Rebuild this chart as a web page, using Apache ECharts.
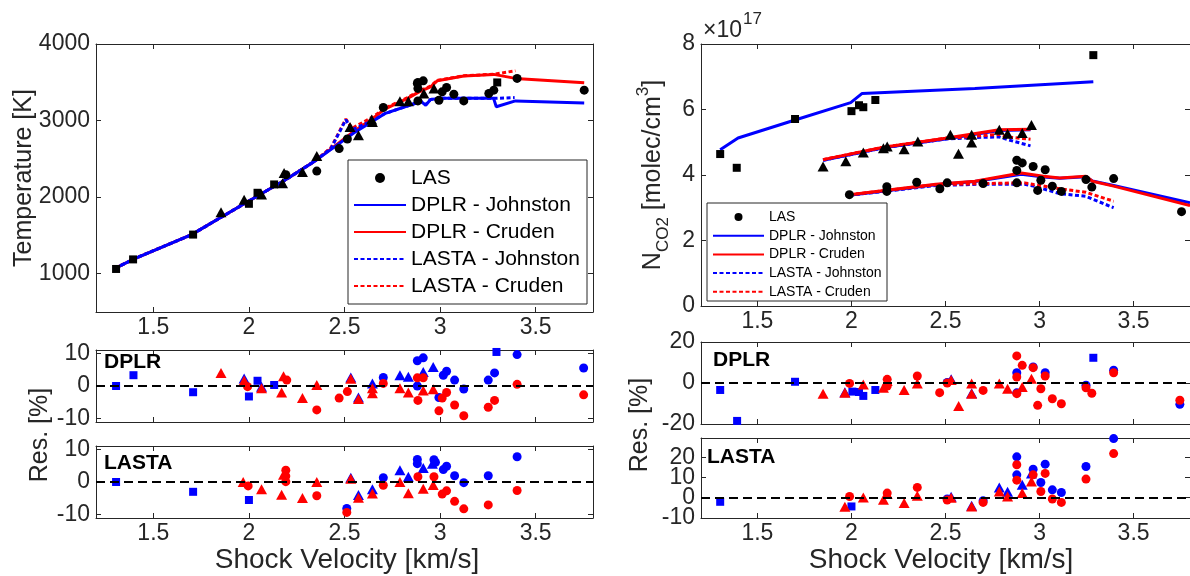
<!DOCTYPE html>
<html><head><meta charset="utf-8">
<script src="https://cdn.jsdelivr.net/npm/echarts@6/dist/echarts.min.js"></script>
<style>html,body{margin:0;padding:0;background:#fff}#c{width:1190px;height:576px}</style>
</head><body><div id="c"></div>
<script>
// ---------- tick labels ----------
const xTicks = [1.5, 2, 2.5, 3, 3.5];
const tempTicks = [1000, 2000, 3000, 4000];
const ncoTicks = [0, 2, 4, 6, 8];
const resLTicks = [-10, 0, 10];
const resRDTicks = [-20, 0, 20];
const resRLTicks = [-10, 0, 10, 20];
const legendNames = ['LAS', 'DPLR - Johnston', 'DPLR - Cruden', 'LASTA - Johnston', 'LASTA - Cruden'];

// ---------- Temperature panel (x: km/s, y: K) ----------
const tSquares = [[1.305,1062],[1.394,1187],[1.708,1511],[2.0,1913],[2.045,2057],[2.132,2166],[3.299,3498]];
const tTriangles = [[1.854,1803],[1.975,1965],[2.066,2035],[2.176,2183],[2.184,2314],[2.28,2327],[2.355,2537],[2.529,2917],[2.573,2808],[2.642,3013],[2.646,2982],[2.79,3253],[2.834,3253],[2.915,3354],[2.968,3420]];
const tCircles = [[2.193,2293],[2.355,2340],[2.472,2634],[2.515,2760],[2.703,3170],[2.881,3485],[2.884,3498],[2.912,3519],[2.884,3420],[2.884,3257],[2.994,3266],[3.011,3375],[3.034,3432],[3.072,3345],[3.124,3257],[3.255,3354],[3.281,3397],[3.403,3551],[3.754,3397]];
const tDPLRJ = [[1.30,1070],[1.40,1195],[1.70,1510],[1.85,1730],[2.00,1950],[2.20,2240],[2.35,2480],[2.45,2660],[2.55,2840],[2.65,2995],[2.71,3090],[2.84,3200],[2.90,3250],[2.925,3200],[2.95,3275],[3.00,3290],[3.28,3290],[3.294,3180],[3.394,3257],[3.754,3231]];
const tDPLRC = [[1.30,1070],[1.40,1195],[1.70,1510],[1.85,1730],[2.00,1950],[2.20,2240],[2.35,2480],[2.45,2670],[2.55,2860],[2.65,3030],[2.71,3150],[2.83,3290],[2.89,3375],[2.95,3441],[2.985,3519],[3.124,3581],[3.281,3603],[3.394,3551],[3.754,3493]];
const tLASTAJ = [[1.30,1070],[1.40,1195],[1.70,1510],[1.85,1730],[2.00,1950],[2.20,2240],[2.35,2480],[2.43,2640],[2.507,3010],[2.54,2880],[2.65,3000],[2.71,3090],[2.84,3200],[2.90,3250],[2.925,3210],[2.95,3275],[3.00,3290],[3.28,3290],[3.39,3300]];
const tLASTAC = [[1.30,1070],[1.40,1195],[1.70,1510],[1.85,1730],[2.00,1950],[2.20,2240],[2.35,2480],[2.43,2650],[2.507,3020],[2.54,2900],[2.65,3050],[2.71,3160],[2.83,3300],[2.89,3385],[2.95,3450],[2.985,3525],[3.124,3585],[3.281,3605],[3.394,3650]];

// ---------- N_CO2 panel (x: km/s, y: 1e17 molec/cm3) ----------
const nSquares = [[1.302,4.64],[1.39,4.22],[1.70,5.71],[2.0,5.95],[2.04,6.13],[2.063,6.07],[2.127,6.29],[3.286,7.66]];
const nTriangles = [[1.849,4.26],[1.97,4.42],[2.063,4.69],[2.17,4.82],[2.19,4.87],[2.28,4.79],[2.353,5.02],[2.526,5.23],[2.569,4.65],[2.639,5.23],[2.639,4.99],[2.786,5.38],[2.83,5.26],[2.908,5.28],[2.957,5.53]];
const nCircles = [[1.989,3.40],[2.188,3.64],[2.188,3.50],[2.347,3.78],[2.47,3.58],[2.509,3.76],[2.70,3.74],[2.879,4.45],[2.908,4.37],[2.879,4.14],[2.879,3.76],[2.966,4.26],[3.03,4.16],[3.007,3.84],[2.99,3.53],[3.068,3.66],[3.116,3.50],[3.247,3.86],[3.278,3.63],[3.394,3.89],[3.755,2.88]];
const nSqDPLRJ = [[1.302,4.77],[1.397,5.13],[1.70,5.68],[1.996,6.21],[2.057,6.49],[2.656,6.64],[3.286,6.85]];
const nTriDPLRC = [[1.849,4.47],[2.17,4.85],[2.50,5.12],[2.786,5.38],[2.952,5.40]];
const nTriDPLRJ = [[1.849,4.45],[2.17,4.83],[2.50,5.10],[2.786,5.36],[2.952,5.38]];
const nTriLASTAC = [[1.849,4.47],[2.17,4.85],[2.50,5.12],[2.69,5.20],[2.786,5.24],[2.83,5.16],[2.952,5.09]];
const nTriLASTAJ = [[1.849,4.45],[2.17,4.83],[2.50,5.10],[2.69,5.15],[2.786,5.16],[2.83,5.08],[2.952,4.89]];
const nCirDPLRC = [[1.989,3.40],[2.448,3.72],[2.656,3.81],[2.879,4.04],[2.903,4.06],[3.021,3.96],[3.108,3.91],[3.247,3.96],[3.281,3.81],[3.394,3.66],[3.80,3.07]];
const nCirDPLRJ = [[1.989,3.38],[2.448,3.70],[2.656,3.80],[2.879,4.00],[2.903,4.02],[3.021,3.94],[3.108,3.90],[3.247,3.95],[3.281,3.82],[3.394,3.68],[3.80,3.15]];
const nCirLASTAC = [[1.989,3.40],[2.448,3.70],[2.70,3.74],[2.92,3.76],[2.969,3.71],[3.108,3.58],[3.247,3.47],[3.394,3.20]];
const nCirLASTAJ = [[1.989,3.38],[2.448,3.68],[2.70,3.72],[2.92,3.72],[2.969,3.66],[3.108,3.43],[3.247,3.35],[3.394,3.00]];

// ---------- Temperature residuals [%] ----------
const rtD_bSq = [[1.305,0],[1.396,3.3],[1.708,-1.9],[2.0,-3.2],[2.045,1.6],[2.132,0.3],[3.295,10.4]];
const rtD_bTri = [[1.975,2.3],[2.066,-0.2],[2.533,2.6],[2.573,-3.5],[2.646,0.8],[2.79,3.3],[2.834,2.8],[2.912,4.3],[2.964,5.8]];
const rtD_bCir = [[2.703,2.6],[2.881,7.7],[2.912,8.6],[2.881,0],[2.994,-3.5],[3.017,3.3],[3.034,4.5],[3.076,1.8],[3.124,-0.9],[3.252,1.8],[3.285,4.0],[3.403,9.6],[3.751,5.5]];
const rtD_rTri = [[1.854,4.0],[1.975,1.7],[2.066,-0.7],[2.181,3.0],[2.171,-2.0],[2.28,-3.7],[2.355,0.3],[2.533,2.2],[2.573,-4.0],[2.646,-0.7],[2.646,-2.2],[2.79,-0.7],[2.834,-2.0],[2.912,-1.4],[2.964,-1.0]];
const rtD_rCir = [[1.993,-0.2],[2.198,1.8],[2.355,-7.3],[2.472,-3.7],[2.515,-1.7],[2.703,0.8],[2.881,2.5],[2.912,2.5],[2.884,-4.4],[2.994,-7.6],[3.011,-3.7],[3.034,-2.0],[3.076,-5.8],[3.124,-9.1],[3.252,-6.5],[3.285,-4.4],[3.403,0.5],[3.751,-2.7]];
const rtL_bSq = [[1.305,0],[1.708,-3.0],[2.0,-5.5]];
const rtL_bTri = [[2.533,1.3],[2.573,-4.0],[2.646,-2.2],[2.79,3.6],[2.834,1.6],[2.912,4.3],[2.96,5.6]];
const rtL_bCir = [[2.512,-8.1],[2.703,1.3],[2.881,6.9],[2.881,5.6],[2.968,6.8],[2.976,6.0],[3.017,3.8],[3.034,4.8],[3.076,1.9],[3.124,-0.2],[3.252,1.9],[3.403,7.7]];
const rtL_rTri = [[1.97,0],[2.066,-2.2],[2.181,2.2],[2.171,-3.9],[2.28,-4.9],[2.355,0],[2.533,1.0],[2.573,-4.8],[2.646,-3.5],[2.79,0],[2.834,-3.4],[2.912,-2.1],[2.964,-0.9]];
const rtL_rCir = [[1.996,-1.2],[2.193,3.6],[2.193,1.8],[2.193,0.1],[2.355,-4.2],[2.512,-9.3],[2.703,-1.0],[2.884,1.6],[2.968,1.6],[3.011,-3.7],[3.034,-2.7],[3.076,-5.9],[3.124,-8.2],[3.252,-7.0],[3.403,-2.6]];

// ---------- N_CO2 residuals [%] ----------
const rnD_bSq = [[1.302,-3.4],[1.392,-18.5],[1.70,0.6],[2.005,-4.2],[2.04,-4.4],[2.063,-6.3],[2.127,-3.4],[3.286,12.3]];
const rnD_bTri = [[1.965,-4.5],[2.53,1.8],[2.639,-5.0]];
const rnD_bCir = [[2.509,0.3],[2.879,5.0],[2.879,-4.8],[2.966,7.8],[3.03,5.0],[3.247,-1.1],[3.394,6.2],[3.746,-10.4]];
const rnD_rTri = [[1.849,-5.2],[1.965,-4.7],[2.063,-0.7],[2.17,-2.3],[2.19,1.0],[2.28,-3.4],[2.35,-0.2],[2.53,1.5],[2.57,-11.2],[2.639,-0.2],[2.639,-5.2],[2.786,-0.2],[2.83,-2.8],[2.908,-2.0],[2.957,2.1]];
const rnD_rCir = [[1.99,-0.2],[2.19,1.8],[2.19,-1.5],[2.35,3.4],[2.469,-4.7],[2.509,0],[2.70,-3.6],[2.879,13.2],[2.879,2.9],[2.879,-5.2],[2.908,8.6],[2.966,7.5],[3.03,3.4],[3.007,-2.8],[2.99,-10.9],[3.068,-7.7],[3.116,-10.1],[3.247,-2.3],[3.278,-5.0],[3.394,5.0],[3.746,-8.4]];
const rnL_bSq = [[1.302,-2.0],[2.0,-4.3]];
const rnL_bTri = [[2.53,0.5],[2.639,-4.0],[2.786,5.1],[2.83,3.0],[2.908,6.4],[2.957,12.0]];
const rnL_bCir = [[2.509,-0.6],[2.70,-1.5],[2.879,20.2],[2.879,11.3],[2.966,14.1],[3.03,16.6],[3.007,7.5],[3.068,3.9],[3.116,2.6],[3.247,15.4],[3.394,29.2]];
const rnL_rTri = [[1.965,-4.4],[2.063,0.1],[2.17,-1.0],[2.19,1.8],[2.28,-2.6],[2.35,1.0],[2.53,0],[2.57,-10.2],[2.639,-4.3],[2.786,3.1],[2.83,0.6],[2.908,2.3],[2.957,8.0]];
const rnL_rCir = [[1.99,0.6],[2.19,2.3],[2.35,5.1],[2.509,-1.1],[2.70,-2.3],[2.879,16.3],[2.879,8.7],[2.966,11.3],[3.03,12.0],[3.007,3.1],[3.068,-0.6],[3.116,-2.3],[3.247,9.2],[3.394,21.8]];

// ---------- styling & layout ----------
const FONT = '"Liberation Sans", Arial, Helvetica, sans-serif';
const AX = '#262626', BLUE = '#0000ff', RED = '#ff0000', BLACK = '#000000';
const grids = [
  {left: 96, top: 44, width: 497, height: 268},   // 0 temperature
  {left: 96, top: 350, width: 497, height: 72},   // 1 temp res DPLR
  {left: 96, top: 446, width: 497, height: 72},   // 2 temp res LASTA
  {left: 701, top: 44, width: 499, height: 262},  // 3 NCO2
  {left: 701, top: 342, width: 499, height: 82},  // 4 NCO2 res DPLR
  {left: 701, top: 438, width: 499, height: 80}   // 5 NCO2 res LASTA
];
// tightly packed labels of panel 5 are split over two label rows so none gets auto-hidden
const resRLLabelsA = resRLTicks.filter((v, i) => i % 2 === 0);
const resRLLabelsB = resRLTicks.filter((v, i) => i % 2 === 1);
const yCfg = [
  {min: 500, max: 4000, ticks: tempTicks, labels: tempTicks},
  {min: -11, max: 11, ticks: resLTicks, labels: resLTicks},
  {min: -11, max: 11, ticks: resLTicks, labels: resLTicks},
  {min: 0, max: 8, ticks: ncoTicks, labels: ncoTicks},
  {min: -20, max: 20, ticks: resRDTicks, labels: resRDTicks},
  {min: -10, max: 29.5, ticks: resRLTicks, labels: resRLLabelsA, extra: resRLLabelsB}
];
const xLabelShown = [true, false, true, true, false, true];

const labelStyle = {fontSize: 23, fontFamily: FONT, color: AX, hideOverlap: false};
const xAxes = [], yAxes = [], extraY = [];
grids.forEach((g, i) => {
  const base = {type: 'value', gridIndex: i, splitLine: {show: false},
    axisLine: {show: true, onZero: false, lineStyle: {color: AX, width: 1}}};
  xAxes.push(Object.assign({}, base, {min: 1.2, max: 3.8, position: 'bottom',
    axisTick: {show: true, inside: true, length: 5, customValues: xTicks, lineStyle: {color: AX}},
    axisLabel: Object.assign({show: xLabelShown[i], customValues: xTicks, formatter: v => String(v), margin: 4}, labelStyle)}));
  xAxes.push(Object.assign({}, base, {min: 1.2, max: 3.8, position: 'top',
    axisTick: {show: true, inside: true, length: 5, customValues: xTicks, lineStyle: {color: AX}},
    axisLabel: {show: false}}));
  const yc = yCfg[i];
  yAxes.push(Object.assign({}, base, {min: yc.min, max: yc.max, position: 'left',
    axisTick: {show: true, inside: true, length: 5, customValues: yc.ticks, lineStyle: {color: AX}},
    axisLabel: Object.assign({show: true, customValues: yc.labels, formatter: v => String(v), margin: 6}, labelStyle)}));
  yAxes.push(Object.assign({}, base, {min: yc.min, max: yc.max, position: 'right',
    axisTick: {show: true, inside: true, length: 5, customValues: yc.ticks, lineStyle: {color: AX}},
    axisLabel: {show: false}}));
  if (yc.extra) {
    extraY.push({type: 'value', gridIndex: i, min: yc.min, max: yc.max, position: 'left', offset: 0,
      splitLine: {show: false}, axisLine: {show: false}, axisTick: {show: false},
      axisLabel: Object.assign({show: true, customValues: yc.extra, formatter: v => String(v), margin: 6}, labelStyle)});
  }
});
const allY = yAxes.concat(extraY);

function sc(name, g, data, sym, color, z) {
  const size = sym === 'triangle' ? [11, 10] : (sym === 'rect' ? 8 : 9);
  return {type: 'scatter', name, xAxisIndex: 2 * g, yAxisIndex: 2 * g, data, symbol: sym, symbolSize: size,
    itemStyle: {color, opacity: 1}, silent: true, z: z || 3};
}
function ln(name, g, data, color, dotted, z) {
  return {type: 'line', name, xAxisIndex: 2 * g, yAxisIndex: 2 * g, data, showSymbol: false, symbol: 'none',
    lineStyle: {color, width: 3, type: dotted ? [4, 2.5] : 'solid', cap: 'butt'}, itemStyle: {color}, silent: true, z: z || 2};
}
function zeroLine(s) {
  s.markLine = {silent: true, symbol: 'none', label: {show: false}, animation: false,
    lineStyle: {color: BLACK, type: [9, 5], width: 2}, data: [{yAxis: 0}]};
  return s;
}

const series = [
  ln('DPLR - Cruden', 0, tDPLRC, RED, false, 2),
  ln('LASTA - Cruden', 0, tLASTAC, RED, true, 2),
  ln('LASTA - Johnston', 0, tLASTAJ, BLUE, true, 2),
  ln('DPLR - Johnston', 0, tDPLRJ, BLUE, false, 2),
  sc('LAS', 0, tCircles, 'circle', BLACK, 4),
  sc('LAS squares', 0, tSquares, 'rect', BLACK, 4),
  sc('LAS triangles', 0, tTriangles, 'triangle', BLACK, 4),
  zeroLine(sc('rtD_bSq', 1, rtD_bSq, 'rect', BLUE)),
  sc('rtD_bTri', 1, rtD_bTri, 'triangle', BLUE),
  sc('rtD_bCir', 1, rtD_bCir, 'circle', BLUE),
  sc('rtD_rTri', 1, rtD_rTri, 'triangle', RED, 4),
  sc('rtD_rCir', 1, rtD_rCir, 'circle', RED, 4),
  zeroLine(sc('rtL_bSq', 2, rtL_bSq, 'rect', BLUE)),
  sc('rtL_bTri', 2, rtL_bTri, 'triangle', BLUE),
  sc('rtL_bCir', 2, rtL_bCir, 'circle', BLUE),
  sc('rtL_rTri', 2, rtL_rTri, 'triangle', RED, 4),
  sc('rtL_rCir', 2, rtL_rCir, 'circle', RED, 4),
  ln('DPLR - Johnston', 3, nSqDPLRJ, BLUE, false, 2),
  ln('DPLR - Johnston', 3, nTriDPLRJ, BLUE, false, 2),
  ln('LASTA - Johnston', 3, nTriLASTAJ, BLUE, true, 2),
  ln('LASTA - Cruden', 3, nTriLASTAC, RED, true, 2),
  ln('DPLR - Cruden', 3, nTriDPLRC, RED, false, 2),
  ln('DPLR - Johnston', 3, nCirDPLRJ, BLUE, false, 2),
  ln('LASTA - Johnston', 3, nCirLASTAJ, BLUE, true, 2),
  ln('LASTA - Cruden', 3, nCirLASTAC, RED, true, 2),
  ln('DPLR - Cruden', 3, nCirDPLRC, RED, false, 2),
  sc('LAS', 3, nCircles, 'circle', BLACK, 4),
  sc('LAS squares', 3, nSquares, 'rect', BLACK, 4),
  sc('LAS triangles', 3, nTriangles, 'triangle', BLACK, 4),
  zeroLine(sc('rnD_bSq', 4, rnD_bSq, 'rect', BLUE)),
  sc('rnD_bTri', 4, rnD_bTri, 'triangle', BLUE),
  sc('rnD_bCir', 4, rnD_bCir, 'circle', BLUE),
  sc('rnD_rTri', 4, rnD_rTri, 'triangle', RED, 4),
  sc('rnD_rCir', 4, rnD_rCir, 'circle', RED, 4),
  zeroLine(sc('rnL_bSq', 5, rnL_bSq, 'rect', BLUE)),
  sc('rnL_bTri', 5, rnL_bTri, 'triangle', BLUE),
  sc('rnL_bCir', 5, rnL_bCir, 'circle', BLUE),
  sc('rnL_rTri', 5, rnL_rTri, 'triangle', RED, 4),
  sc('rnL_rCir', 5, rnL_rCir, 'circle', RED, 4)
];

const txt = (x, y, text, size, opts) => Object.assign({type: 'text', x, y, z: 120,
  style: Object.assign({text, fontSize: size, fontFamily: FONT, fill: AX, align: 'center', verticalAlign: 'middle'}, opts || {})});

const graphic = [
  {type: 'rect', shape: {x: 348, y: 160, width: 239, height: 144}, style: {fill: '#fff', stroke: AX, lineWidth: 1}, z: 100},
  {type: 'rect', shape: {x: 707, y: 203, width: 180, height: 98}, style: {fill: '#fff', stroke: AX, lineWidth: 1}, z: 100},
  Object.assign(txt(24, 178, 'Temperature [K]', 25), {rotation: Math.PI / 2}),
  Object.assign(txt(40, 435, 'Res. [%]', 25), {rotation: Math.PI / 2}),
  Object.assign(txt(640, 425, 'Res. [%]', 25), {rotation: Math.PI / 2}),
  Object.assign(txt(653, 175, '', 25, {
    text: '{a|N}{b|CO2}{a| [molec/cm}{c|3}{a|]}',
    rich: {a: {fontSize: 25, fontFamily: FONT, fill: AX, padding: [6, 0, 6, 0]},
           b: {fontSize: 17, fontFamily: FONT, fill: AX, verticalAlign: 'bottom'},
           c: {fontSize: 17, fontFamily: FONT, fill: AX, verticalAlign: 'top'}}
  }), {rotation: Math.PI / 2}),
  txt(347, 560, 'Shock Velocity [km/s]', 28),
  txt(941, 560, 'Shock Velocity [km/s]', 28),
  txt(703, 31, '×10', 23, {align: 'left'}),
  txt(743, 19, '17', 17, {align: 'left'}),
  txt(104, 362, 'DPLR', 21, {align: 'left', fontWeight: 'bold', fill: BLACK}),
  txt(104, 463, 'LASTA', 21, {align: 'left', fontWeight: 'bold', fill: BLACK}),
  txt(713, 360, 'DPLR', 21, {align: 'left', fontWeight: 'bold', fill: BLACK}),
  txt(707, 457, 'LASTA', 21, {align: 'left', fontWeight: 'bold', fill: BLACK})
];

const legendData = legendNames.map(n => n === 'LAS' ? {name: n} : {name: n, itemStyle: {opacity: 0}});

const chart = echarts.init(document.getElementById('c'), null, {renderer: 'canvas'});
chart.setOption({
  animation: false,
  backgroundColor: '#ffffff',
  grid: grids,
  xAxis: xAxes,
  yAxis: allY,
  legend: [
    {data: legendData, orient: 'vertical', left: 353, top: 167.5, padding: 0, itemWidth: 52, itemHeight: 10, itemGap: 6,
     selectedMode: false, z: 110, textStyle: {fontSize: 21, lineHeight: 21, fontFamily: FONT, color: BLACK}},
    {data: legendData, orient: 'vertical', left: 712, top: 210, padding: 0, itemWidth: 51, itemHeight: 8, itemGap: 4.7,
     selectedMode: false, z: 110, textStyle: {fontSize: 14, lineHeight: 14, fontFamily: FONT, color: BLACK}}
  ],
  graphic,
  series
});
</script>
</body></html>
